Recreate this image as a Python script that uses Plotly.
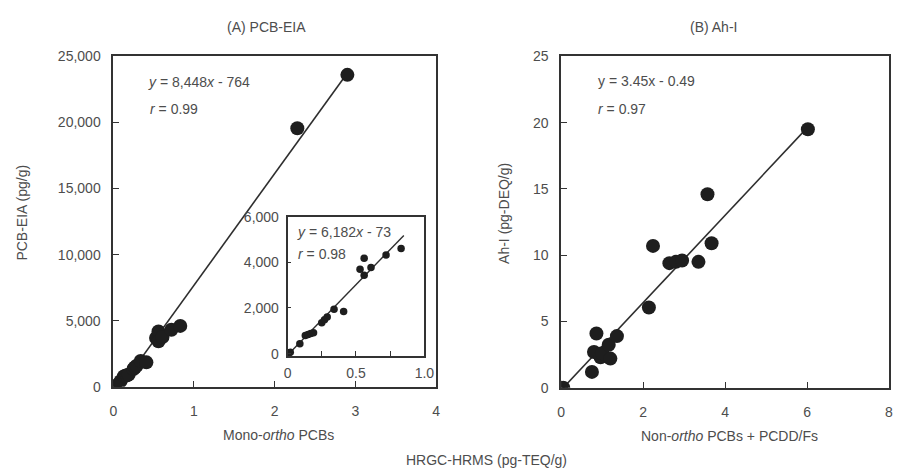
import plotly.graph_objects as go

# ---------------- data ----------------
# Panel A: Mono-ortho PCBs (pg-TEQ/g) vs PCB-EIA (pg/g)
a_x = [0.0, 0.01, 0.02, 0.09, 0.13, 0.15, 0.17, 0.19, 0.25, 0.27, 0.29, 0.34,
       0.41, 0.53, 0.56, 0.56, 0.61, 0.72, 0.83, 2.28, 2.90]
a_y = [0, 30, 60, 430, 790, 840, 880, 920, 1350, 1480, 1600, 1950,
       1850, 3700, 4180, 3440, 3770, 4320, 4610, 19560, 23600]
a_slope, a_intercept = 8448, -764
a_line_x = [0.09, 2.88]

# Inset (subset with x < 1)
in_slope, in_intercept = 6182, -73
in_line_x = [0.012, 0.85]

# Panel B: Non-ortho PCBs + PCDD/Fs vs Ah-I (pg-DEQ/g)
b_x = [0.0, 0.05, 0.75, 0.80, 0.86, 0.96, 1.0, 1.16, 1.20, 1.36, 2.14, 2.24,
       2.64, 2.80, 2.95, 3.35, 3.57, 3.67, 6.02]
b_y = [0.0, 0.0, 1.2, 2.7, 4.1, 2.3, 2.6, 3.25, 2.2, 3.9, 6.05, 10.7,
       9.4, 9.5, 9.6, 9.5, 14.6, 10.9, 19.5]
# regression line as drawn in the figure (end points)
b_line_x = [0.05, 6.0]
b_line_y = [0.0, 19.6]

a_yticks = [0, 5000, 10000, 15000, 20000, 25000]
a_xticks = [0, 1, 2, 3, 4]
in_yticks = [0, 2000, 4000, 6000]
in_xticks = [0, 0.25, 0.5, 0.75, 1.0]
in_xticktext = ["0", "", "0.5", "", "1.0"]
b_yticks = [0, 5, 10, 15, 20, 25]
b_xticks = [0, 2, 4, 6, 8]

# ---------------- style ----------------
W, H = 900, 476
FONT = "Liberation Sans, Arial, sans-serif"
TXT = "#4d4d4d"
DOT = "#1e1e1e"
LINE = "#2e2e2e"
AX = "#333333"
FS = 14


def px(x):
    return x / W


def py(y):
    return 1 - y / H


fig = go.Figure()

inset_x = [v for v in a_x if v < 1]
inset_y = [a_y[i] for i, v in enumerate(a_x) if v < 1]

# lines
fig.add_trace(go.Scatter(x=a_line_x, y=[a_slope * v + a_intercept for v in a_line_x],
                         mode="lines", line=dict(color=LINE, width=1.6),
                         xaxis="x", yaxis="y", showlegend=False, hoverinfo="skip"))
fig.add_trace(go.Scatter(x=a_x, y=a_y, mode="markers",
                         marker=dict(size=14, color=DOT),
                         xaxis="x", yaxis="y", showlegend=False))

fig.add_trace(go.Scatter(x=in_line_x, y=[in_slope * v + in_intercept for v in in_line_x],
                         mode="lines", line=dict(color=LINE, width=1.4),
                         xaxis="x2", yaxis="y2", showlegend=False, hoverinfo="skip"))
fig.add_trace(go.Scatter(x=inset_x, y=inset_y, mode="markers",
                         marker=dict(size=7.5, color=DOT),
                         xaxis="x2", yaxis="y2", showlegend=False))

fig.add_trace(go.Scatter(x=b_line_x, y=b_line_y,
                         mode="lines", line=dict(color=LINE, width=1.6),
                         xaxis="x3", yaxis="y3", showlegend=False, hoverinfo="skip"))
fig.add_trace(go.Scatter(x=b_x, y=b_y, mode="markers",
                         marker=dict(size=14, color=DOT),
                         xaxis="x3", yaxis="y3", showlegend=False))

axis_common = dict(showgrid=False, zeroline=False, showline=True, mirror=True,
                   linecolor=AX, linewidth=1.6, ticks="inside", ticklen=6,
                   tickwidth=1.4, tickcolor=AX,
                   tickfont=dict(family=FONT, size=FS, color=TXT))

fig.update_layout(
    width=W, height=H,
    margin=dict(l=0, r=0, t=0, b=0),
    paper_bgcolor="white", plot_bgcolor="white",
    font=dict(family=FONT, color=TXT),
    xaxis=dict(axis_common, domain=[px(111), px(439)], range=[0, 4],
               tickvals=a_xticks, anchor="y", ticklabelstandoff=11),
    yaxis=dict(axis_common, domain=[py(392), py(50)], range=[0, 25000],
               tickvals=a_yticks, tickformat=",d", anchor="x", ticklabelstandoff=8),
    xaxis2=dict(axis_common, domain=[px(288), px(427)], range=[0, 1.0],
                tickvals=in_xticks, ticktext=in_xticktext, anchor="y2",
                ticklen=5, ticklabelstandoff=4),
    yaxis2=dict(axis_common, domain=[py(360), py(216)], range=[-100, 6000],
                tickvals=in_yticks, tickformat=",d", anchor="x2",
                ticklen=4, ticklabelstandoff=4),
    xaxis3=dict(axis_common, domain=[px(566), px(899)], range=[0, 8],
                tickvals=b_xticks, anchor="y3", ticklabelstandoff=11),
    yaxis3=dict(axis_common, domain=[py(393), py(50)], range=[0, 25],
                tickvals=b_yticks, anchor="x3", ticklabelstandoff=8),
)

ann = []


def text(x, y, s, size=FS, xanchor="center", angle=0):
    ann.append(dict(x=px(x), y=py(y), xref="paper", yref="paper", text=s,
                    showarrow=False, xanchor=xanchor, yanchor="middle",
                    textangle=angle, font=dict(family=FONT, size=size, color=TXT)))


text(267, 20, "(A) PCB-EIA")
text(721, 20, "(B) Ah-I")
text(18, 212, "PCB-EIA (pg/g)", angle=-90)
text(508, 213, "Ah-I (pg-DEQ/g)", angle=-90)
text(279, 442, "Mono-<i>ortho</i> PCBs")
text(737, 443, "Non-<i>ortho</i> PCBs + PCDD/Fs")
text(490, 468, "HRGC-HRMS (pg-TEQ/g)")
text(144, 77, "<i>y</i> = 8,448<i>x</i> - 764", xanchor="left")
text(146, 104, "<i>r</i> = 0.99", xanchor="left")
text(601, 76, "y = 3.45x - 0.49", xanchor="left")
text(601, 105, "<i>r</i> = 0.97", xanchor="left")
text(296, 232, "<i>y</i> = 6,182<i>x</i> - 73", xanchor="left")
text(297, 255, "<i>r</i> = 0.98", xanchor="left")

fig.update_layout(annotations=ann)

fig.write_html("out.html")
